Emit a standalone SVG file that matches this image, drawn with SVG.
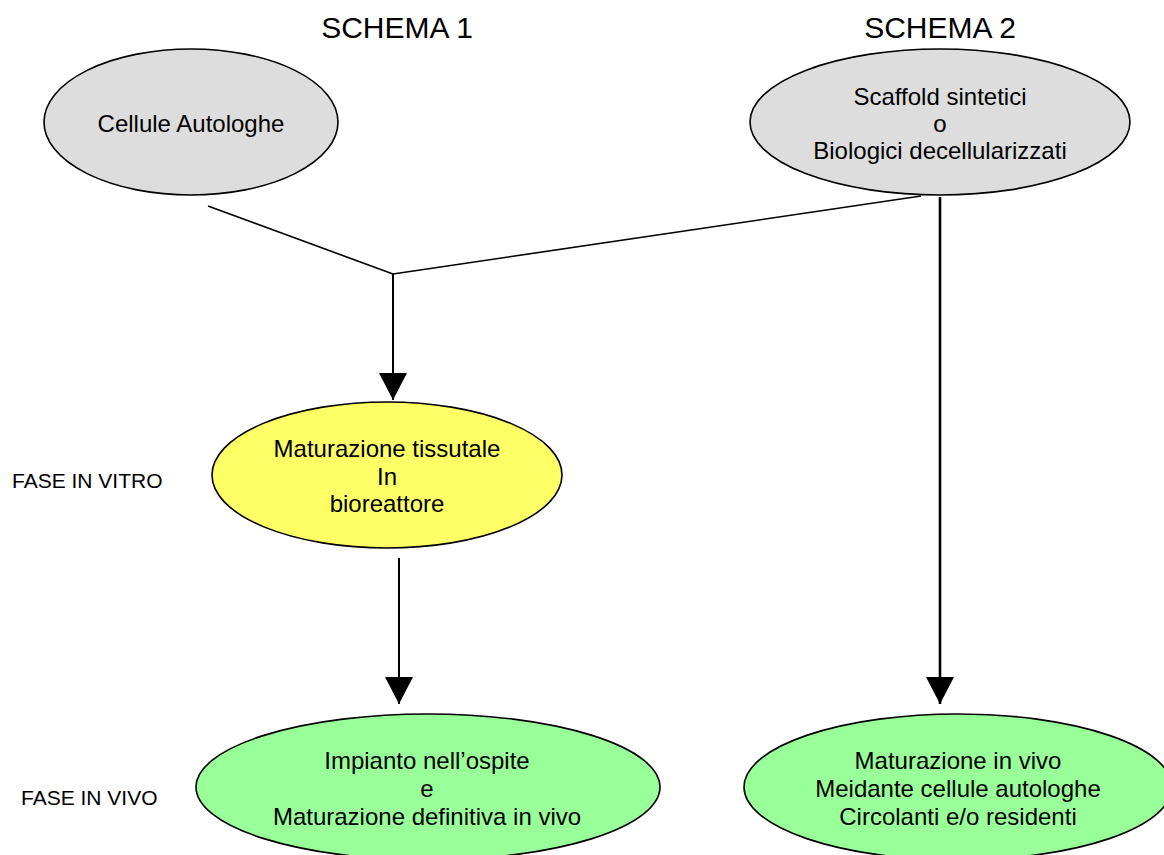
<svg xmlns="http://www.w3.org/2000/svg" width="1164" height="855" viewBox="0 0 1164 855">
<style>
  .bg { fill: #ffffff; }
  .node ellipse { stroke: #000000; stroke-width: 1.6; }
  .gray { fill: #dddddd; }
  .yellow { fill: #ffff66; }
  .green { fill: #99ff99; }
  text { font-family: "Liberation Sans", Arial, sans-serif; fill: #000000; text-anchor: middle; }
  .t { font-size: 24px; }
  .title { font-size: 30px; }
  .side { font-size: 21px; text-anchor: start; }
  .conn line { stroke: #000000; fill: none; }
</style>
<defs>
  <marker id="arrow" markerUnits="userSpaceOnUse" markerWidth="28" markerHeight="28" viewBox="0 0 28 28" refX="27" refY="14" orient="auto">
    <path d="M0,0 L27,14 L0,28 Z" fill="#000000"/>
  </marker>
</defs>
<rect class="bg" x="0" y="0" width="1164" height="855"/>

<g id="titles">
  <text class="title" x="397" y="38">SCHEMA 1</text>
  <text class="title" x="940" y="38">SCHEMA 2</text>
</g>

<g id="phase-labels">
  <text class="side" x="12" y="488">FASE IN VITRO</text>
  <text class="side" x="21" y="805">FASE IN VIVO</text>
</g>

<g class="conn" id="connectors">
  <line x1="208" y1="206" x2="393" y2="274" stroke-width="1.6"/>
  <line x1="921" y1="196" x2="393" y2="274" stroke-width="1.6"/>
  <line x1="393" y1="274" x2="393" y2="400" stroke-width="2" marker-end="url(#arrow)"/>
  <line x1="399" y1="558" x2="399" y2="704" stroke-width="2" marker-end="url(#arrow)"/>
  <line x1="940" y1="197" x2="940" y2="704" stroke-width="2.6" marker-end="url(#arrow)"/>
</g>

<g class="node" id="node-cellule">
  <ellipse class="gray" cx="191" cy="122" rx="147" ry="73"/>
  <text class="t" x="191" y="132">Cellule Autologhe</text>
</g>

<g class="node" id="node-scaffold">
  <ellipse class="gray" cx="940" cy="122" rx="190" ry="73"/>
  <text class="t" x="940" y="105">Scaffold sintetici</text>
  <text class="t" x="940" y="132">o</text>
  <text class="t" x="940" y="159">Biologici decellularizzati</text>
</g>

<g class="node" id="node-bioreattore">
  <ellipse class="yellow" cx="387" cy="475" rx="175" ry="73"/>
  <text class="t" x="387" y="457">Maturazione tissutale</text>
  <text class="t" x="387" y="485">In</text>
  <text class="t" x="387" y="512">bioreattore</text>
</g>

<g class="node" id="node-impianto">
  <ellipse class="green" cx="428" cy="787" rx="232" ry="73"/>
  <text class="t" x="427" y="769">Impianto nell’ospite</text>
  <text class="t" x="427" y="797">e</text>
  <text class="t" x="427" y="825">Maturazione definitiva in vivo</text>
</g>

<g class="node" id="node-invivo">
  <ellipse class="green" cx="958" cy="787" rx="214" ry="73"/>
  <text class="t" x="958" y="769">Maturazione in vivo</text>
  <text class="t" x="958" y="797">Meidante cellule autologhe</text>
  <text class="t" x="958" y="825">Circolanti e/o residenti</text>
</g>
</svg>
